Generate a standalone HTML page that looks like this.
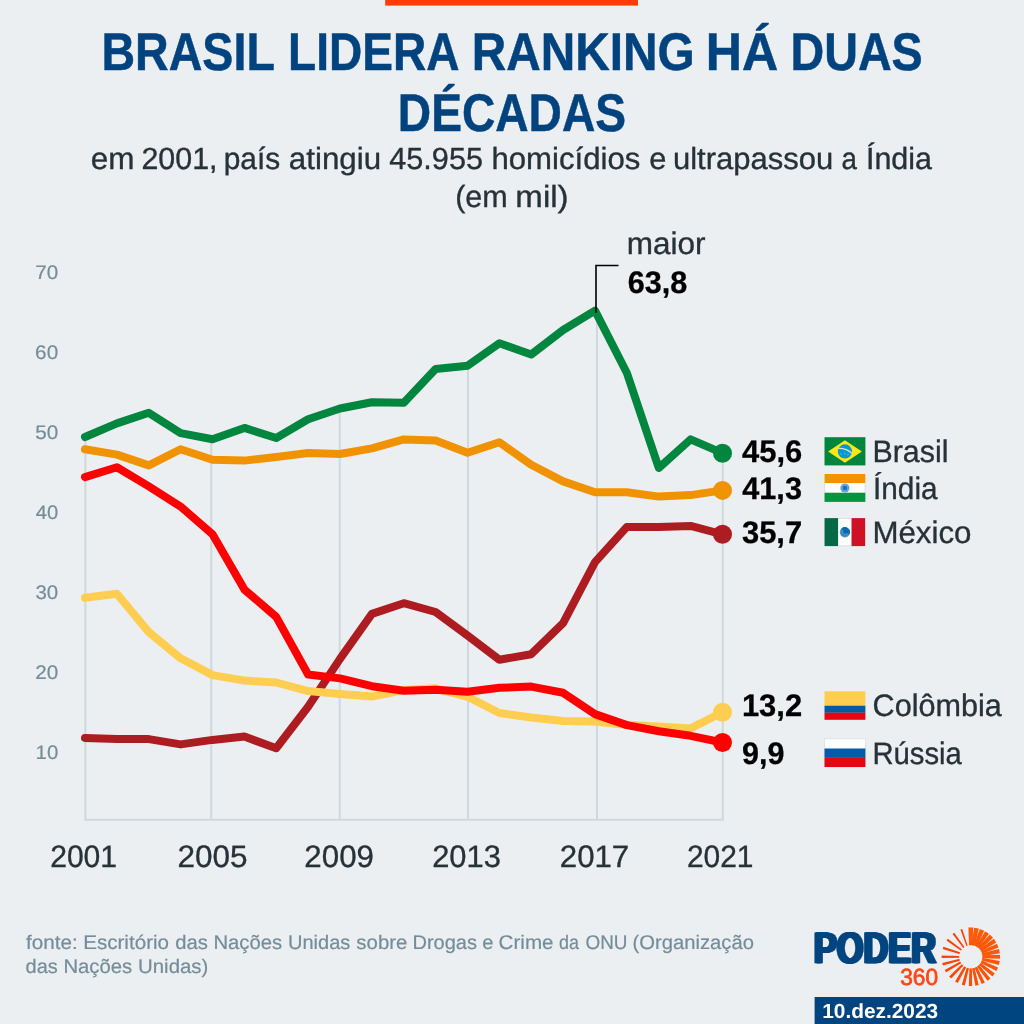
<!DOCTYPE html>
<html lang="pt-BR">
<head>
<meta charset="utf-8">
<title>Brasil lidera ranking há duas décadas</title>
<style>
html,body{margin:0;padding:0;background:#eceff1;}
body{width:1024px;height:1024px;overflow:hidden;font-family:"Liberation Sans",sans-serif;}
svg{display:block;}
svg text{font-family:"Liberation Sans",sans-serif;text-rendering:geometricPrecision;}
.t{fill:#00437f;stroke:#00437f;stroke-width:0.5px;font-weight:bold;font-size:53px;}
.s{fill:#263238;stroke:#263238;stroke-width:0.35px;font-size:30.6px;}
.yt{fill:#748d9a;stroke:#748d9a;stroke-width:0.2px;font-size:19.6px;}
.xt{fill:#263238;stroke:#263238;stroke-width:0.35px;font-size:31px;}
.v{fill:#000;stroke:#000;stroke-width:0.3px;font-weight:bold;font-size:31.2px;}
.n{fill:#263238;stroke:#263238;stroke-width:0.35px;font-size:31px;}
.f{fill:#748d9a;stroke:#748d9a;stroke-width:0.2px;font-size:19.7px;}
.lp{fill:#004580;stroke:#004580;stroke-width:0.6px;font-weight:bold;font-size:44px;filter:drop-shadow(1.1px 0 0 #004580) drop-shadow(-1.1px 0 0 #004580);}
.l3{fill:#ff4612;font-size:23.4px;stroke:#ff4612;stroke-width:0.7px;}
.dt{fill:#fff;font-weight:bold;font-size:20.5px;}
.ln{fill:none;stroke-width:8;stroke-linecap:round;stroke-linejoin:round;}
.g{stroke:#cfd8dc;stroke-width:2;fill:none;}
</style>
</head>
<body>
<svg width="1024" height="1024" viewBox="0 0 1024 1024">
<rect x="0" y="0" width="1024" height="1024" fill="#eceff1"/>
<rect x="385.2" y="0" width="252.8" height="5.6" fill="#ff3d00"/>

<line class="g" x1="85.4" y1="437.0" x2="85.4" y2="819.8"/>
<line class="g" x1="211.3" y1="439.2" x2="211.3" y2="819.8"/>
<line class="g" x1="339.7" y1="408.5" x2="339.7" y2="819.8"/>
<line class="g" x1="468.0" y1="365.8" x2="468.0" y2="819.8"/>
<line class="g" x1="597.0" y1="312.0" x2="597.0" y2="819.8"/>
<line class="g" x1="722.8" y1="453.2" x2="722.8" y2="819.8"/>
<line class="g" x1="84.4" y1="819.8" x2="723.8" y2="819.8"/>
<polyline class="ln" stroke="#ac1c21" points="85.0,738.0 116.9,739.1 148.8,739.1 180.6,744.4 212.5,739.9 244.4,736.6 276.2,748.3 308.1,706.7 340.0,658.9 371.9,613.9 403.8,603.2 435.6,612.0 467.5,635.4 499.4,659.8 531.2,654.2 563.1,623.2 595.0,562.1 626.9,526.9 658.8,526.9 690.6,525.9 722.5,534.3"/>
<polyline class="ln" stroke="#ffcd50" points="85.0,597.7 116.9,593.8 148.8,632.1 180.6,658.3 212.5,675.1 244.4,680.6 276.2,682.5 308.1,691.1 340.0,694.0 371.9,696.6 403.8,690.1 435.6,688.3 467.5,696.8 499.4,713.0 531.2,717.5 563.1,720.9 595.0,721.6 626.9,725.0 658.8,726.4 690.6,728.4 722.5,712.2"/>
<polyline class="ln" stroke="#ff0000" points="85.0,477.1 116.9,467.3 148.8,486.4 180.6,506.6 212.5,534.3 244.4,589.6 276.2,616.9 308.1,674.5 340.0,678.4 371.9,686.2 403.8,690.7 435.6,689.8 467.5,691.7 499.4,687.8 531.2,686.6 563.1,692.8 595.0,714.1 626.9,725.1 658.8,731.3 690.6,735.8 722.5,742.5"/>
<polyline class="ln" stroke="#f19300" points="85.0,449.3 116.9,454.6 148.8,465.4 180.6,449.3 212.5,459.7 244.4,460.6 276.2,457.0 308.1,453.0 340.0,454.0 371.9,448.4 403.8,439.4 435.6,440.5 467.5,452.7 499.4,442.3 531.2,464.8 563.1,481.4 595.0,492.3 626.9,492.3 658.8,496.6 690.6,495.1 722.5,490.4"/>
<polyline class="ln" stroke="#00863e" points="85.0,437.0 116.9,423.4 148.8,412.8 180.6,433.1 212.5,439.2 244.4,427.9 276.2,438.0 308.1,419.3 340.0,408.5 371.9,402.3 403.8,402.8 435.6,369.1 467.5,365.8 499.4,343.3 531.2,354.5 563.1,330.0 595.0,310.6 626.9,373.0 658.8,468.0 690.6,439.4 722.5,453.2"/>
<circle cx="722.5" cy="534.3" r="9.5" fill="#ac1c21"/>
<circle cx="722.5" cy="712.2" r="9.5" fill="#ffcd50"/>
<circle cx="722.5" cy="742.5" r="9.5" fill="#ff0000"/>
<circle cx="722.5" cy="490.4" r="9.5" fill="#f19300"/>
<circle cx="722.5" cy="453.2" r="9.5" fill="#00863e"/>
<polyline points="618.5,265.5 596,265.5 596,312.8" fill="none" stroke="#000" stroke-width="1.6"/>
<g><rect x="824.5" y="437.2" width="40.9" height="28.2" fill="#00853e"/>
<polygon points="828.1,451.4 844.9,440.2 861.9,451.4 844.9,462.7" fill="#ffe614"/>
<circle cx="844.9" cy="451.4" r="7.1" fill="#0a97d0"/>
<path d="M838.2,448.4 Q846.3,448 851.8,453.3" fill="none" stroke="#cfeacb" stroke-width="1.2"/>
<path d="M840,453.5 l2,1 M844,452.5 l1.5,2 M847,455 l2,-1" fill="none" stroke="#5db8e2" stroke-width="0.9"/></g>
<g><rect x="824.5" y="474.0" width="40.9" height="27.9" fill="#fff"/>
<rect x="824.5" y="474.0" width="40.9" height="9.1" fill="#f29400"/>
<rect x="824.5" y="492.7" width="40.9" height="9.2" fill="#009640"/>
<path d="M824.8,483.1v9.6M865.1,483.1v9.6" stroke="#c4c5cc" stroke-width="0.6" fill="none"/>
<circle cx="844.9" cy="488" r="4.6" fill="#62a6dc"/><circle cx="844.9" cy="488" r="2.3" fill="#1273c4"/></g>
<g><rect x="824.5" y="518.1" width="40.9" height="28.0" fill="#fff"/>
<path d="M838.1,518.4h13.4M838.1,545.8h13.4" stroke="#c8c9cc" stroke-width="0.6" fill="none"/>
<rect x="824.5" y="518.1" width="13.6" height="28.0" fill="#056948"/>
<rect x="851.5" y="518.1" width="13.7" height="28.0" fill="#ce1126"/>
<circle cx="844.9" cy="532.3" r="5.1" fill="#2f84bd"/><path d="M841.6,528.4a5.1,5.1 0 0 1 8.2,5.4l-4.9,-1.5z" fill="#0a6eaa"/><circle cx="845.7" cy="531" r="2.5" fill="#0a6eaa"/>
<path d="M848.3,535.1a4.4,4.4 0 0 1 -7.6,-4.4" fill="none" stroke="#fff" stroke-opacity="0.75" stroke-width="0.7" stroke-dasharray="0.9 1.3"/>
<path d="M846.6,534.3a2.6,2.6 0 0 1 -4.1,-2.9" fill="none" stroke="#fff" stroke-opacity="0.6" stroke-width="0.6" stroke-dasharray="0.8 1.1"/></g>
<g><rect x="824.5" y="691.3" width="40.9" height="14.4" fill="#ffcd50"/>
<rect x="824.5" y="705.7" width="40.9" height="7.1" fill="#005ba9"/>
<rect x="824.5" y="712.7" width="40.9" height="7.1" fill="#e30613"/></g>
<g><rect x="824.5" y="738.9" width="40.9" height="28.2" fill="#fff" stroke="#d5d9dc" stroke-width="0.6"/>
<rect x="824.5" y="748.5" width="40.9" height="9.4" fill="#005ba9"/>
<rect x="824.5" y="757.9" width="40.9" height="9.1" fill="#e30613"/></g>
<text class="t" x="397.83" y="131" textLength="228.21" lengthAdjust="spacingAndGlyphs">DÉCADAS</text>
<text class="n" x="626.80" y="254" textLength="78.73" lengthAdjust="spacingAndGlyphs">maior</text>
<text class="v" x="627.73" y="293" textLength="59.49" lengthAdjust="spacingAndGlyphs">63,8</text>
<text class="xt" x="50.17" y="867" textLength="66.92" lengthAdjust="spacingAndGlyphs">2001</text>
<text class="xt" x="177.45" y="867" textLength="70.05" lengthAdjust="spacingAndGlyphs">2005</text>
<text class="xt" x="304.34" y="867" textLength="69.60" lengthAdjust="spacingAndGlyphs">2009</text>
<text class="xt" x="432.21" y="867" textLength="68.63" lengthAdjust="spacingAndGlyphs">2013</text>
<text class="xt" x="559.83" y="867" textLength="69.35" lengthAdjust="spacingAndGlyphs">2017</text>
<text class="xt" x="686.89" y="867" textLength="66.58" lengthAdjust="spacingAndGlyphs">2021</text>
<text class="v" x="742.09" y="462" textLength="60.21" lengthAdjust="spacingAndGlyphs">45,6</text>
<text class="v" x="742.30" y="499" textLength="59.62" lengthAdjust="spacingAndGlyphs">41,3</text>
<text class="v" x="741.97" y="543" textLength="60.15" lengthAdjust="spacingAndGlyphs">35,7</text>
<text class="v" x="741.93" y="716" textLength="60.16" lengthAdjust="spacingAndGlyphs">13,2</text>
<text class="v" x="742.04" y="764" textLength="42.38" lengthAdjust="spacingAndGlyphs">9,9</text>
<text class="n" x="872.51" y="462" textLength="75.95" lengthAdjust="spacingAndGlyphs">Brasil</text>
<text class="n" x="873.05" y="499" textLength="64.51" lengthAdjust="spacingAndGlyphs">Índia</text>
<text class="n" x="872.43" y="543" textLength="99.09" lengthAdjust="spacingAndGlyphs">México</text>
<text class="n" x="872.60" y="716" textLength="129.11" lengthAdjust="spacingAndGlyphs">Colômbia</text>
<text class="n" x="872.45" y="764" textLength="89.44" lengthAdjust="spacingAndGlyphs">Rússia</text>
<text class="lp" x="814.38" y="963" textLength="122.13" lengthAdjust="spacingAndGlyphs">PODER</text>
<text class="l3" x="900.19" y="985" textLength="37.82" lengthAdjust="spacingAndGlyphs">360</text>
<text class="yt" x="35.25" y="279" textLength="22.90" lengthAdjust="spacingAndGlyphs">70</text>
<text class="yt" x="35.14" y="359" textLength="23.05" lengthAdjust="spacingAndGlyphs">60</text>
<text class="yt" x="35.28" y="439" textLength="22.96" lengthAdjust="spacingAndGlyphs">50</text>
<text class="yt" x="35.86" y="519" textLength="22.43" lengthAdjust="spacingAndGlyphs">40</text>
<text class="yt" x="35.45" y="599" textLength="22.73" lengthAdjust="spacingAndGlyphs">30</text>
<text class="yt" x="35.15" y="679" textLength="23.01" lengthAdjust="spacingAndGlyphs">20</text>
<text class="yt" x="35.60" y="759" textLength="22.60" lengthAdjust="spacingAndGlyphs">10</text>
<text class="t" y="70"><tspan x="101.42" textLength="172.61" lengthAdjust="spacingAndGlyphs">BRASIL</tspan> <tspan x="288.00" textLength="169.75" lengthAdjust="spacingAndGlyphs">LIDERA</tspan> <tspan x="471.65" textLength="223.00" lengthAdjust="spacingAndGlyphs">RANKING</tspan> <tspan x="705.86" textLength="72.43" lengthAdjust="spacingAndGlyphs">HÁ</tspan> <tspan x="790.47" textLength="132.26" lengthAdjust="spacingAndGlyphs">DUAS</tspan></text>
<text class="s" y="169"><tspan x="90.66" textLength="43.71" lengthAdjust="spacingAndGlyphs">em</tspan> <tspan x="141.45" textLength="76.05" lengthAdjust="spacingAndGlyphs">2001,</tspan> <tspan x="223.69" textLength="56.55" lengthAdjust="spacingAndGlyphs">país</tspan> <tspan x="288.83" textLength="92.27" lengthAdjust="spacingAndGlyphs">atingiu</tspan> <tspan x="389.29" textLength="93.66" lengthAdjust="spacingAndGlyphs">45.955</tspan> <tspan x="491.45" textLength="148.84" lengthAdjust="spacingAndGlyphs">homicídios</tspan> <tspan x="649.28" textLength="17.14" lengthAdjust="spacingAndGlyphs">e</tspan> <tspan x="672.93" textLength="160.33" lengthAdjust="spacingAndGlyphs">ultrapassou</tspan> <tspan x="841.60" textLength="15.42" lengthAdjust="spacingAndGlyphs">a</tspan> <tspan x="865.93" textLength="66.09" lengthAdjust="spacingAndGlyphs">Índia</tspan></text>
<text class="f" y="949"><tspan x="26.09" textLength="51.72" lengthAdjust="spacingAndGlyphs">fonte:</tspan> <tspan x="83.15" textLength="85.93" lengthAdjust="spacingAndGlyphs">Escritório</tspan> <tspan x="175.30" textLength="32.64" lengthAdjust="spacingAndGlyphs">das</tspan> <tspan x="213.40" textLength="68.84" lengthAdjust="spacingAndGlyphs">Nações</tspan> <tspan x="288.01" textLength="62.40" lengthAdjust="spacingAndGlyphs">Unidas</tspan> <tspan x="356.39" textLength="50.99" lengthAdjust="spacingAndGlyphs">sobre</tspan> <tspan x="412.48" textLength="64.54" lengthAdjust="spacingAndGlyphs">Drogas</tspan> <tspan x="482.28" textLength="11.24" lengthAdjust="spacingAndGlyphs">e</tspan> <tspan x="498.64" textLength="54.96" lengthAdjust="spacingAndGlyphs">Crime</tspan> <tspan x="558.98" textLength="19.97" lengthAdjust="spacingAndGlyphs">da</tspan> <tspan x="585.46" textLength="41.98" lengthAdjust="spacingAndGlyphs">ONU</tspan> <tspan x="632.60" textLength="121.34" lengthAdjust="spacingAndGlyphs">(Organização</tspan></text>
<text class="f" y="973"><tspan x="25.57" textLength="32.21" lengthAdjust="spacingAndGlyphs">das</tspan> <tspan x="63.40" textLength="68.84" lengthAdjust="spacingAndGlyphs">Nações</tspan> <tspan x="138.09" textLength="70.21" lengthAdjust="spacingAndGlyphs">Unidas)</tspan></text>
<text class="s" y="207"><tspan x="455.21" textLength="52.53" lengthAdjust="spacingAndGlyphs">(em</tspan> <tspan x="515.39" textLength="53.21" lengthAdjust="spacingAndGlyphs">mil)</tspan></text>
<g fill="#fd4f08">
<polygon fill="#fc5a0a" points="969.04,945.80 968.38,927.60 973.22,927.60 972.56,945.80" transform="rotate(0.00 970.8 956.8)"/>
<polygon fill="#fc5a0a" points="969.08,945.80 968.43,927.60 973.17,927.60 972.52,945.80" transform="rotate(11.25 970.8 956.8)"/>
<polygon fill="#fc5a0a" points="969.11,945.80 968.48,927.60 973.12,927.60 972.49,945.80" transform="rotate(22.50 970.8 956.8)"/>
<polygon fill="#fc5a0a" points="969.15,945.80 968.53,927.60 973.07,927.60 972.45,945.80" transform="rotate(33.75 970.8 956.8)"/>
<polygon fill="#fc5a0a" points="969.18,945.80 968.58,927.60 973.02,927.60 972.42,945.80" transform="rotate(45.00 970.8 956.8)"/>
<polygon fill="#fc5a0a" points="969.22,945.80 968.62,927.60 972.98,927.60 972.38,945.80" transform="rotate(56.25 970.8 956.8)"/>
<polygon fill="#fc5a0a" points="969.25,945.80 968.67,927.60 972.93,927.60 972.35,945.80" transform="rotate(67.50 970.8 956.8)"/>
<polygon fill="#fc5a0a" points="969.29,945.80 968.72,927.60 972.88,927.60 972.31,945.80" transform="rotate(78.75 970.8 956.8)"/>
<polygon fill="#fc590a" points="969.33,945.80 968.77,927.60 972.83,927.60 972.27,945.80" transform="rotate(90.00 970.8 956.8)"/>
<polygon fill="#fc5709" points="969.36,945.80 968.83,927.60 972.77,927.60 972.24,945.80" transform="rotate(102.20 970.8 956.8)"/>
<polygon fill="#fd5508" points="969.40,945.80 968.88,927.60 972.72,927.60 972.20,945.80" transform="rotate(115.00 970.8 956.8)"/>
<polygon fill="#fd5308" points="969.45,945.80 968.94,927.60 972.66,927.60 972.15,945.80" transform="rotate(128.50 970.8 956.8)"/>
<polygon fill="#fd5107" points="969.49,945.80 969.00,927.60 972.60,927.60 972.11,945.80" transform="rotate(141.50 970.8 956.8)"/>
<polygon fill="#fd5006" points="969.53,945.80 969.05,927.60 972.55,927.60 972.07,945.80" transform="rotate(154.70 970.8 956.8)"/>
<polygon fill="#fd4e06" points="969.57,945.80 969.11,927.60 972.49,927.60 972.03,945.80" transform="rotate(167.60 970.8 956.8)"/>
<polygon fill="#fe4c05" points="969.61,945.80 969.17,927.60 972.43,927.60 971.99,945.80" transform="rotate(180.60 970.8 956.8)"/>
<polygon fill="#fe4a04" points="969.66,945.80 969.23,927.60 972.37,927.60 971.94,945.80" transform="rotate(194.80 970.8 956.8)"/>
<polygon fill="#fe4804" points="969.70,945.80 969.29,927.60 972.31,927.60 971.90,945.80" transform="rotate(209.50 970.8 956.8)"/>
<polygon fill="#fe4603" points="969.75,945.80 969.36,927.60 972.24,927.60 971.85,945.80" transform="rotate(225.00 970.8 956.8)"/>
<polygon fill="#fe4402" points="969.80,945.80 969.43,927.60 972.17,927.60 971.80,945.80" transform="rotate(240.50 970.8 956.8)"/>
<polygon fill="#ff4201" points="969.85,945.80 969.49,927.60 972.11,927.60 971.75,945.80" transform="rotate(255.00 970.8 956.8)"/>
<polygon fill="#ff3f00" points="969.90,945.80 969.56,927.60 972.04,927.60 971.70,945.80" transform="rotate(270.00 970.8 956.8)"/>
<polygon fill="#ff3e00" points="969.95,945.80 969.63,927.60 971.97,927.60 971.65,945.80" transform="rotate(288.00 970.8 956.8)"/>
<polygon fill="#ff3e00" points="970.01,945.80 969.71,927.60 971.89,927.60 971.59,945.80" transform="rotate(306.00 970.8 956.8)"/>
<polygon fill="#ff3e00" points="970.06,945.80 969.79,927.60 971.81,927.60 971.54,945.80" transform="rotate(323.50 970.8 956.8)"/>
<polygon fill="#ff3e00" points="970.12,945.80 969.87,927.60 971.73,927.60 971.48,945.80" transform="rotate(341.00 970.8 956.8)"/>
</g>
<circle cx="970.8" cy="956.8" r="11.6" fill="#eceff1"/>
<rect x="814.6" y="997" width="209.4" height="27" fill="#004580"/>
<text class="dt" x="822.20" y="1018" textLength="116.00" lengthAdjust="spacingAndGlyphs">10.dez.2023</text>
</svg>
</body>
</html>
